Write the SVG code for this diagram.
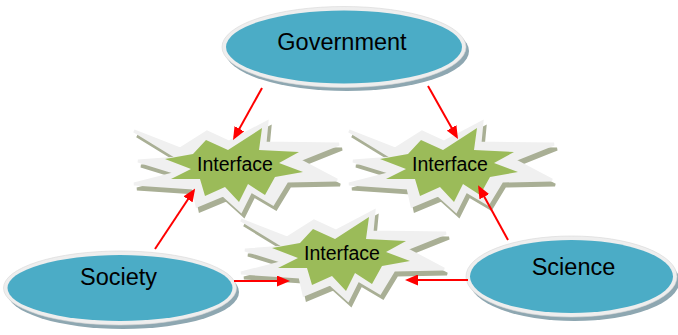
<svg xmlns="http://www.w3.org/2000/svg" xmlns:xlink="http://www.w3.org/1999/xlink" width="678" height="335" viewBox="0 0 678 335">
  <style>
    .oval-shadow { fill: #8ea7b1; }
    .oval-rim { fill: #eeeeee; stroke: #d6d6d6; stroke-width: 0.6; }
    .oval-fill { fill: #4bacc6; }
    .burst-shadow { fill: #a9af95; stroke: #a9af95; stroke-width: 3; stroke-linejoin: miter; stroke-miterlimit: 3; }
    .burst-rim { fill: #f0f0f0; stroke: #f0f0f0; stroke-width: 3; stroke-linejoin: miter; stroke-miterlimit: 3; }
    .burst-core { fill: #9bbb59; }
    .label { font-family: "Liberation Sans", Arial, sans-serif; fill: #000000; text-anchor: middle; }
    .big { font-size: 23.5px; }
    .small { font-size: 19.5px; }
    .link { stroke: #ff0000; stroke-width: 2; fill: none; marker-end: url(#arrowhead); }
  </style>
  <defs>
    <!-- explosion outline (light rim) and its green core, drawn around (0,0) -->
    <polygon id="burstOuter" points="-101,-33 -55,-15 -28,-32 -6,-22 32,-42 30,-21 104,-20 64,-4 102,16 52,17 38,40 16,27 6,47 -12,31 -38,42 -42,24 -101,20 -58,9 -97,-3 -57,-6"/>
    <polygon id="burstInner" points="-70,-5 -42,-10 -29,-24 -7,-14 27,-36 24,-14 64,-12 44,-1 68,8 40,13 30,31 13,20 4,38 -10,23 -30,32 -35,15 -64,15 -44,5"/>
    <marker id="arrowhead" markerUnits="userSpaceOnUse" markerWidth="13" markerHeight="11" refX="10" refY="5.5" orient="auto">
      <path d="M0,0 L13,5.5 L0,11 z" fill="#ff0000"/>
    </marker>
  </defs>

  <!-- Government -->
  <g id="government">
    <ellipse class="oval-shadow" cx="347" cy="51" rx="122" ry="40"/>
    <ellipse class="oval-rim" cx="344" cy="47" rx="122" ry="40.5"/>
    <ellipse class="oval-fill" cx="344" cy="47" rx="118" ry="36.5"/>
    <text class="label big" x="342" y="50">Government</text>
  </g>

  <!-- Society -->
  <g id="society">
    <ellipse class="oval-shadow" cx="123" cy="292" rx="116" ry="37"/>
    <ellipse class="oval-rim" cx="120" cy="288" rx="116.5" ry="37"/>
    <ellipse class="oval-fill" cx="120" cy="288" rx="112.5" ry="33"/>
    <text class="label big" x="118.5" y="285">Society</text>
  </g>

  <!-- Science -->
  <g id="science">
    <ellipse class="oval-shadow" cx="574.5" cy="281" rx="105" ry="40"/>
    <ellipse class="oval-rim" cx="571.5" cy="276.5" rx="105.5" ry="40.5"/>
    <ellipse class="oval-fill" cx="571.5" cy="276.5" rx="101.5" ry="36.5"/>
    <text class="label big" x="573.5" y="275">Science</text>
  </g>

  <!-- Interface between government and society -->
  <g id="interface-left" transform="translate(235,164)">
    <use xlink:href="#burstOuter" class="burst-shadow" transform="translate(3,5)"/>
    <use xlink:href="#burstOuter" class="burst-rim"/>
    <use xlink:href="#burstInner" class="burst-core"/>
    <text class="label small" x="0" y="7">Interface</text>
  </g>

  <!-- Interface between government and science -->
  <g id="interface-right" transform="translate(450,164)">
    <use xlink:href="#burstOuter" class="burst-shadow" transform="translate(3,5)"/>
    <use xlink:href="#burstOuter" class="burst-rim"/>
    <use xlink:href="#burstInner" class="burst-core"/>
    <text class="label small" x="0" y="7">Interface</text>
  </g>

  <!-- Interface between society and science -->
  <g id="interface-bottom" transform="translate(342,253)">
    <use xlink:href="#burstOuter" class="burst-shadow" transform="translate(3,5)"/>
    <use xlink:href="#burstOuter" class="burst-rim"/>
    <use xlink:href="#burstInner" class="burst-core"/>
    <text class="label small" x="0" y="7">Interface</text>
  </g>

  <!-- connectors -->
  <g id="connectors">
    <line class="link" x1="262" y1="88" x2="234.5" y2="137.5"/>
    <line class="link" x1="428" y1="86" x2="456.5" y2="136.5"/>
    <line class="link" x1="155" y1="249" x2="193.5" y2="191"/>
    <line class="link" x1="234" y1="281" x2="287" y2="281"/>
    <line class="link" x1="468" y1="280" x2="408" y2="280"/>
    <line class="link" x1="508" y1="240" x2="479.5" y2="188"/>
  </g>
</svg>
